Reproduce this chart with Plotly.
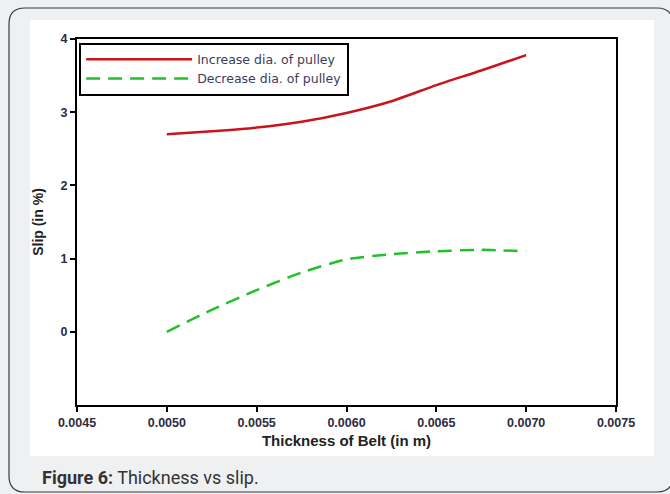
import plotly.graph_objects as go

# ---- data ----
thickness = [0.0050, 0.00525, 0.0055, 0.00575, 0.0060, 0.00625, 0.0065, 0.00675, 0.0070]
slip_increase = [2.70, 2.74, 2.79, 2.87, 2.99, 3.15, 3.37, 3.57, 3.78]
slip_decrease = [0.00, 0.30, 0.57, 0.81, 0.99, 1.06, 1.10, 1.12, 1.10]
x_ticks = [0.0045, 0.0050, 0.0055, 0.0060, 0.0065, 0.0070, 0.0075]
y_ticks = [0, 1, 2, 3, 4]
series_names = ["Increase dia. of pulley", "Decrease dia. of pulley"]

W, H = 670, 494
L, R, T, B = 77, 54, 39, 89
pw, ph = W - L - R, H - T - B

def px(x):
    return (x - L) / pw

def py(y):
    return (H - B - y) / ph

fig = go.Figure()
fig.add_trace(go.Scatter(
    x=thickness, y=slip_increase, mode="lines", name=series_names[0],
    line=dict(color="#c8141c", width=2.5, shape="spline", smoothing=0.6)))
fig.add_trace(go.Scatter(
    x=thickness, y=slip_decrease, mode="lines", name=series_names[1],
    line=dict(color="#22c02a", width=2.5, dash="14px,8px", shape="spline", smoothing=0.6)))

# background panels
x0, x1, y0, y1 = 9, 673, 8, 492
r = 16
rx, ry = r / pw, r / ph
path = (f"M {px(x0)},{py(y1 - r)} L {px(x0)},{py(y0 + r)} "
        f"Q {px(x0)},{py(y0)} {px(x0) + rx},{py(y0)} "
        f"L {px(x1) - rx},{py(y0)} Q {px(x1)},{py(y0)} {px(x1)},{py(y0 + r)} "
        f"L {px(x1)},{py(y1 - r)} Q {px(x1)},{py(y1)} {px(x1) - rx},{py(y1)} "
        f"L {px(x0) + rx},{py(y1)} Q {px(x0)},{py(y1)} {px(x0)},{py(y1 - r)} Z")
shapes = [
    dict(type="path", xref="paper", yref="paper", path=path,
         line=dict(color="#3a3a3a", width=1.2), fillcolor="#eff0f2", layer="below"),
    dict(type="rect", xref="paper", yref="paper",
         x0=px(30), x1=px(654), y0=py(456), y1=py(20),
         line=dict(width=0), fillcolor="white", layer="below"),
]

fig.update_layout(
    width=W, height=H,
    margin=dict(l=L, r=R, t=T, b=B),
    paper_bgcolor="#eff0f2",
    plot_bgcolor="white",
    shapes=shapes,
    showlegend=True,
    legend=dict(x=0.004, y=0.99, xanchor="left", yanchor="top",
                bgcolor="white", bordercolor="black", borderwidth=2,
                font=dict(family="DejaVu Sans", size=12.5, color="#3c3c5a"),
                itemwidth=106, tracegroupgap=4),
    xaxis=dict(range=[0.0045, 0.0075], tickvals=x_ticks, tickformat=".4f",
               showgrid=False, zeroline=False, showline=True, mirror=True,
               linecolor="black", linewidth=2, ticks="outside", ticklen=5,
               tickwidth=2, tickcolor="black",
               tickfont=dict(family="Liberation Sans", size=12.5, color="#2c2c40", weight="bold"),
               title=dict(text="<b>Thickness of Belt (in m)</b>", standoff=6,
                          font=dict(family="Liberation Sans", size=15, color="#222222"))),
    yaxis=dict(range=[-1, 4], tickvals=y_ticks,
               showgrid=False, zeroline=False, showline=True, mirror=True,
               linecolor="black", linewidth=2, ticks="outside", ticklen=5,
               tickwidth=2, tickcolor="black",
               tickfont=dict(family="Liberation Sans", size=12.5, color="#2c2c40", weight="bold"),
               title=dict(text="<b>Slip (in %)</b>", standoff=14,
                          font=dict(family="Liberation Sans", size=14, color="#222222"))),
    annotations=[dict(
        xref="paper", yref="paper", x=px(40), y=py(478), xanchor="left", yanchor="middle",
        text="<b>Figure 6:</b> Thickness vs slip.", showarrow=False,
        font=dict(family="Roboto", size=18, color="#333333"))],
)

fig.write_html("out.html")
